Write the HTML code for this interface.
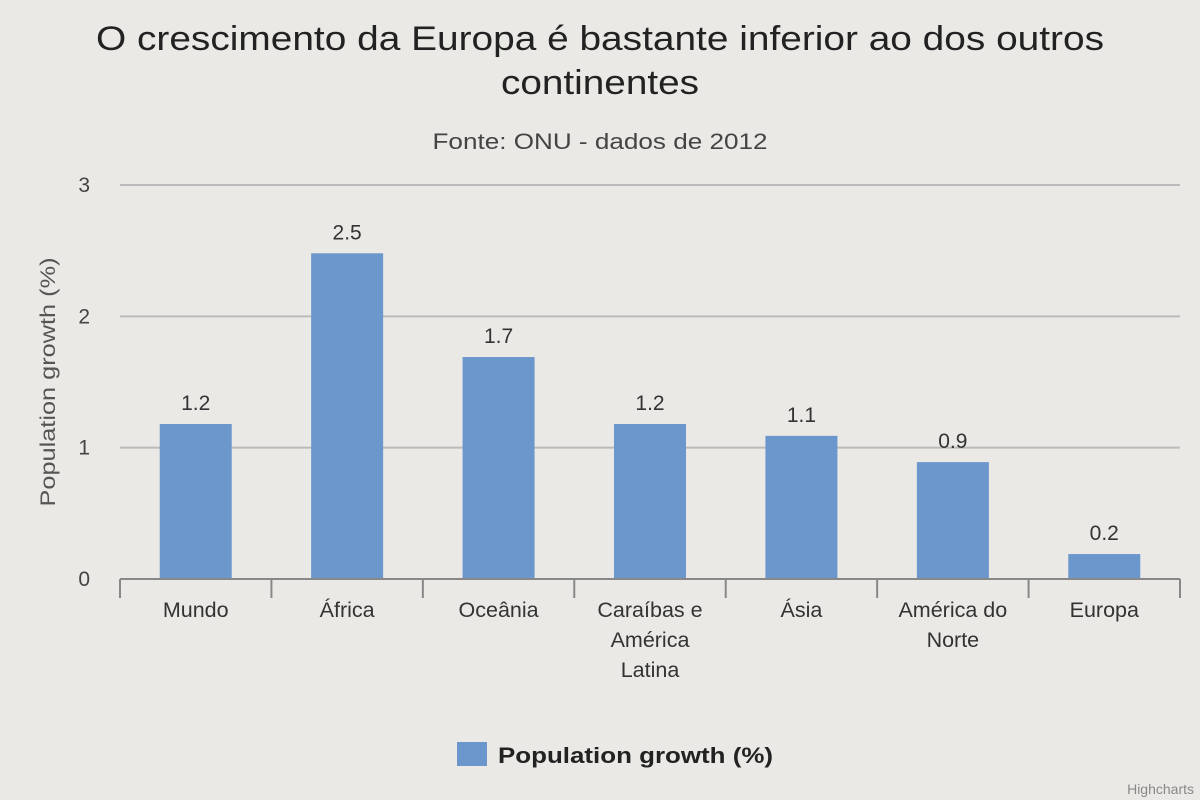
<!DOCTYPE html>
<html><head><meta charset="utf-8"><style>
body{margin:0;background:#ebe9e6;}
svg{display:block;font-family:"Liberation Sans",sans-serif;}
</style></head><body>
<svg id="c" width="1200" height="800">
<rect width="1200" height="800" fill="#ebe9e6"/>
<text x="600" y="50" text-anchor="middle" font-size="34" fill="#222" textLength="1008" lengthAdjust="spacingAndGlyphs">O crescimento da Europa é bastante inferior ao dos outros</text>
<text x="600" y="94" text-anchor="middle" font-size="34" fill="#222" textLength="198" lengthAdjust="spacingAndGlyphs">continentes</text>
<text x="600" y="149" text-anchor="middle" font-size="22" fill="#444" textLength="335" lengthAdjust="spacingAndGlyphs">Fonte: ONU - dados de 2012</text>
<text transform="translate(55,382) rotate(-90)" text-anchor="middle" font-size="21" fill="#555" textLength="249" lengthAdjust="spacingAndGlyphs">Population growth (%)</text>
<g id="grid"></g><g id="bars"></g><g id="xaxis"></g>
<rect x="457" y="742" width="30" height="24" fill="#6b97cc"/>
<text x="498" y="763" font-size="22" font-weight="bold" fill="#222" textLength="275" lengthAdjust="spacingAndGlyphs">Population growth (%)</text>
<text x="1194" y="794" text-anchor="end" font-size="14" fill="#888">Highcharts</text>
</svg>
<script>
const categories=[["Mundo"],["África"],["Oceânia"],["Caraíbas e","América","Latina"],["Ásia"],["América do","Norte"],["Europa"]];
const values=[1.18,2.48,1.69,1.18,1.09,0.89,0.19];
const yTicks=[0,1,2,3];
const NS="http://www.w3.org/2000/svg";
const L=120,R=1180,T=185,B=579,yMax=3;
const y=v=>B-(v/yMax)*(B-T);
const bw=(R-L)/categories.length;
const x=i=>L+i*bw;
function mk(tag,attrs,parent,txt){const e=document.createElementNS(NS,tag);for(const k in attrs)e.setAttribute(k,attrs[k]);if(txt!==undefined)e.textContent=txt;document.getElementById(parent).appendChild(e);return e;}
yTicks.forEach(t=>{
  if(t>0){const g=mk('line',{x1:L,x2:R,y1:y(t),y2:y(t),stroke:'#bbb','stroke-width':2},'grid');
  
  }
  const l=mk('text',{x:90,y:y(t)+7,'text-anchor':'end','font-size':21,fill:'#444'},'grid',String(t));
  
  
});
values.forEach((v,i)=>{
  const w=72,cx=x(i)+bw/2;
  const r=mk('rect',{x:cx-w/2,y:y(v),width:w,height:B-y(v),fill:'#6b97cc'},'bars');
  
  
  const t=mk('text',{x:cx,y:y(v)-14,'text-anchor':'middle','font-size':21,fill:'#333'},'bars',v.toFixed(1));
  
  
  categories[i].forEach((s,j)=>{
    const c=mk('text',{x:cx,y:617+j*30,'text-anchor':'middle','font-size':21.5,fill:'#333'},'xaxis',s);
    
    
  });
});
const ax=mk('line',{x1:L,x2:R,y1:B,y2:B,stroke:'#888','stroke-width':2},'xaxis');


for(let i=0;i<=categories.length;i++){
  const tk=mk('line',{x1:x(i),x2:x(i),y1:B,y2:B+19,stroke:'#888','stroke-width':2},'xaxis');
  
  
}
</script>
</body></html>
